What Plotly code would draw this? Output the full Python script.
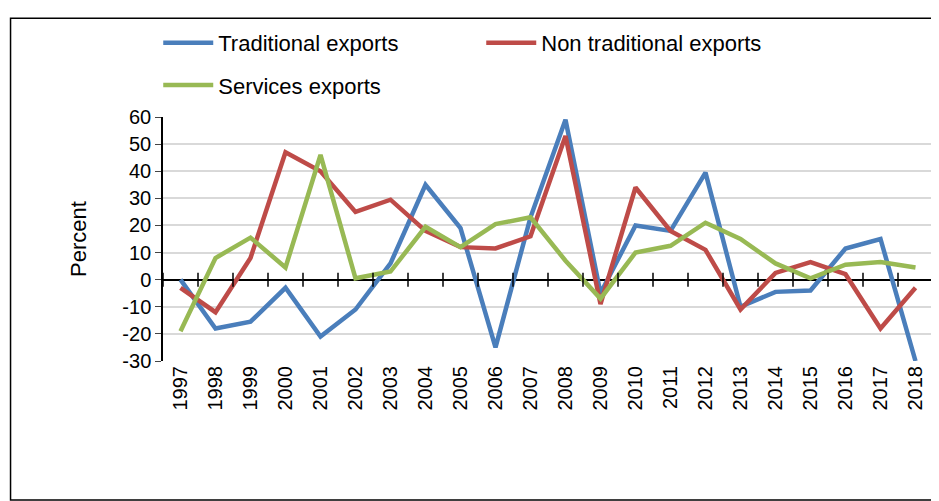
import plotly.graph_objects as go

years = list(range(1997, 2019))
traditional = [0, -18, -15.5, -3, -21, -11, 6, 35, 19, -25, 23, 59, -5, 20, 18, 39.5, -10, -4.5, -4, 11.5, 15, -30]
non_traditional = [-3, -12, 8, 47, 40, 25, 29.5, 18, 12, 11.5, 16, 53, -9, 34, 18, 11, -11, 2.5, 6.5, 2, -18, -3]
services = [-19, 8, 15.5, 4.5, 46, 0.5, 3, 19.5, 12, 20.5, 23, 7, -7, 10, 12.5, 21, 15, 6, 0.5, 5.5, 6.5, 4.5]
tick_vals = [-30, -20, -10, 0, 10, 20, 30, 40, 50, 60]

fig = go.Figure()
for name, vals, col, lg in [("Traditional exports", traditional, "#4A7EBB", "legend"),
                            ("Non traditional exports", non_traditional, "#BE4B48", "legend"),
                            ("Services exports", services, "#98B954", "legend2")]:
    fig.add_trace(go.Scatter(x=years, y=vals, mode="lines", name=name, legend=lg,
                             line=dict(color=col, width=4.5)))

fig.add_trace(go.Scatter(x=[y - 0.5 for y in years] + [years[-1] + 0.5], y=[0] * (len(years) + 1),
                         mode="markers", showlegend=False, hoverinfo="skip",
                         marker=dict(symbol="line-ns-open", size=10, color="black",
                                     line=dict(color="black", width=1.5))))

leg_common = dict(orientation="h", xref="container", yref="container", xanchor="left",
                  yanchor="top", font=dict(size=22), bgcolor="rgba(0,0,0,0)",
                  itemwidth=50, entrywidth=258, entrywidthmode="pixels")
fig.update_layout(
    width=939, height=501, margin=dict(l=155, r=14, t=109, b=148, autoexpand=False),
    paper_bgcolor="white", plot_bgcolor="white",
    font=dict(family="Liberation Sans, Arial", size=20, color="black"),
    showlegend=True,
    legend=dict(x=0.16, y=0.972, **leg_common),
    legend2=dict(x=0.16, y=0.888, **leg_common),
    xaxis=dict(range=[1996.5, 2018.5], tickmode="array", tickvals=years,
               ticktext=[str(y) for y in years], tickangle=-90, showgrid=False,
               zeroline=False, showline=False, ticks="", tickfont=dict(size=20)),
    yaxis=dict(range=[-30, 60], tickvals=tick_vals, ticktext=[str(v) for v in tick_vals],
               showgrid=True, gridcolor="#D9D9D9",
               gridwidth=1.5, zeroline=True, zerolinecolor="black", zerolinewidth=1.5,
               showline=True, linecolor="black", linewidth=1.5, ticks="outside",
               ticklen=6, tickfont=dict(size=20),
               title=dict(text="Percent", font=dict(size=22), standoff=30)),
    shapes=[dict(type="rect", xref="paper", yref="paper", x0=-0.198, x1=1.013, y0=-0.57, y1=1.405,
                 line=dict(color="black", width=1.5))],
)
fig.write_html("out.html")
